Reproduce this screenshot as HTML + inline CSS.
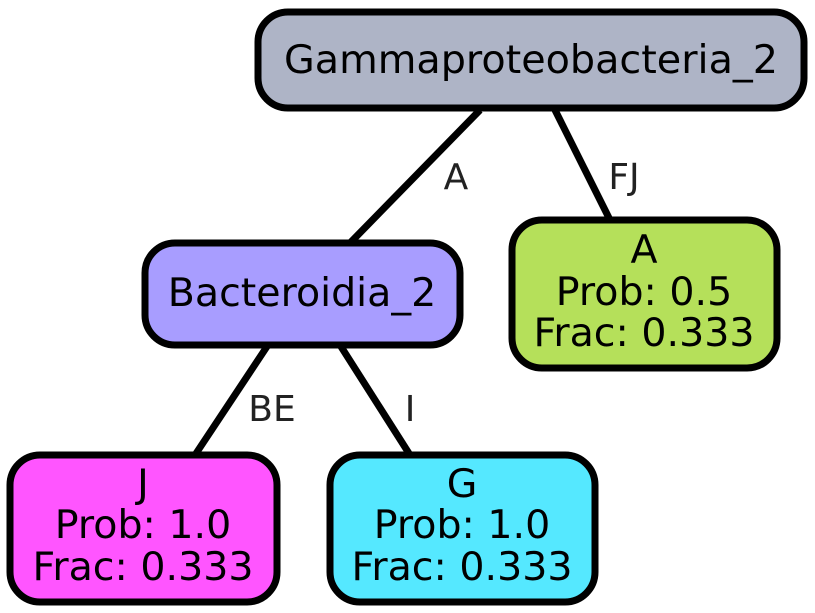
<!DOCTYPE html>
<html><head><meta charset="utf-8"><style>body{margin:0;background:#fff}svg{display:block}</style></head>
<body>
<svg width="815" height="613" viewBox="0 0 815 613" xmlns="http://www.w3.org/2000/svg" font-family="DejaVu Sans, Liberation Sans, sans-serif">
<g stroke="#000" stroke-width="7" fill="none">
<line x1="480" y1="110" x2="350" y2="243"/>
<line x1="555" y1="110" x2="610" y2="220"/>
<line x1="268" y1="345" x2="195" y2="455"/>
<line x1="340" y1="345" x2="410" y2="455"/>
</g>
<g font-size="36" fill="#222" text-anchor="middle">
<text x="456" y="189">A</text>
<text x="624" y="189">FJ</text>
<text x="272" y="421">BE</text>
<text x="410" y="421">I</text>
</g>
<g stroke="#000" stroke-width="7">
<rect x="258" y="12" width="546" height="96" rx="30" fill="#aeb4c6"/>
<rect x="145" y="243" width="315" height="102" rx="30" fill="#a89dff"/>
<rect x="512" y="220" width="265" height="148" rx="30" fill="#b5e05a"/>
<rect x="10" y="455" width="267" height="147" rx="30" fill="#ff55ff"/>
<rect x="330" y="455" width="265" height="147" rx="30" fill="#55e8ff"/>
</g>
<g font-size="39.5" fill="#000" text-anchor="middle">
<text x="531" y="73" textLength="494" lengthAdjust="spacingAndGlyphs">Gammaproteobacteria_2</text>
<text x="302" y="306">Bacteroidia_2</text>
<text x="644" y="263">A</text>
<text x="644" y="305">Prob: 0.5</text>
<text x="644" y="346">Frac: 0.333</text>
<text x="143" y="497">J</text>
<text x="143" y="538">Prob: 1.0</text>
<text x="143" y="580">Frac: 0.333</text>
<text x="462" y="497">G</text>
<text x="462" y="538">Prob: 1.0</text>
<text x="462" y="580">Frac: 0.333</text>
</g>
</svg>
</body></html>
